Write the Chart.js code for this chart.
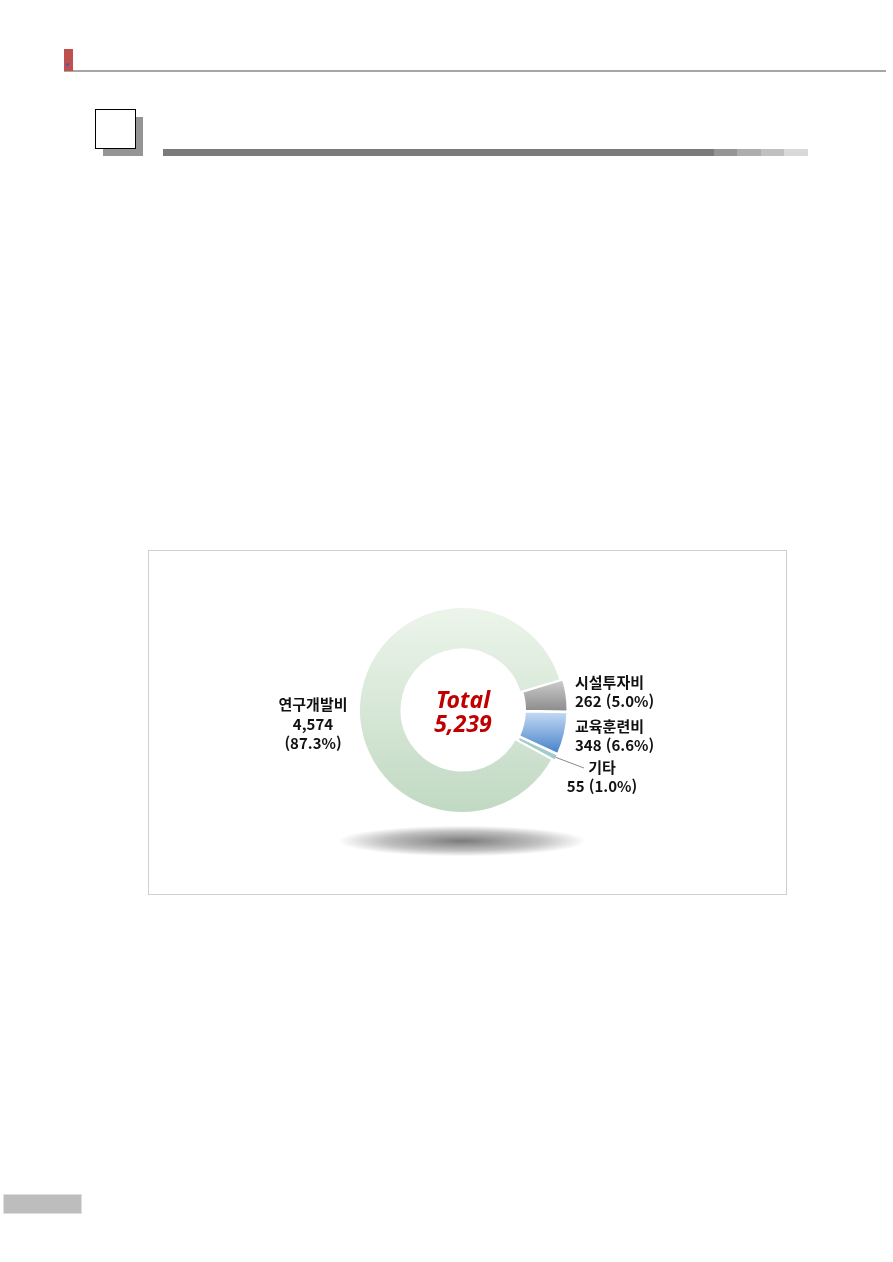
<!DOCTYPE html>
<html lang="ko">
<head>
<meta charset="utf-8">
<script src="https://cdn.jsdelivr.net/npm/chart.js@4/dist/chart.umd.min.js"></script>
<style>
  html, body { margin: 0; padding: 0; background: #fff; }
  body { width: 893px; height: 1262px; position: relative; overflow: hidden;
         font-family: "Noto Sans CJK KR", "Noto Sans", sans-serif; }
  .abs { position: absolute; }
  #topLine { left: 64px; top: 70px; width: 822px; height: 2px; background: #a6a6a6; }
  #redMark { left: 64px; top: 49px; width: 9px; height: 22px; background: #c0504d; }
  #redDot { left: 66px; top: 63px; width: 3px; height: 3px; background: #3a5bd6; border-radius: 2px; }
  #boxShadow { left: 103px; top: 117px; width: 40px; height: 39px; background: #959595; }
  #box { left: 95px; top: 109px; width: 39px; height: 38px; background: #fff; border: 1px solid #000; }
  #bar { left: 163px; top: 149px; height: 7px; display: flex; }
  #bar div { height: 7px; }
  #frame { left: 148px; top: 550px; width: 637px; height: 343px; border: 1px solid #cfcfcf; }
  #shadow { left: 340px; top: 826px; width: 244px; height: 30px;
            background: radial-gradient(ellipse at center, rgba(100,100,100,0.85) 0%, rgba(140,140,140,0.55) 45%, rgba(255,255,255,0) 72%); }
  #wrap { left: 149px; top: 551px; width: 637px; height: 343px; }
  #footBlock { left: 3px; top: 1194px; width: 79px; height: 20px; background: #bdbdbd; border: 1px solid #dedede; box-sizing: border-box; }
</style>
</head>
<body>
<div class="abs" id="topLine"></div>
<div class="abs" id="redMark"></div>
<div class="abs" id="redDot"></div>
<div class="abs" id="boxShadow"></div>
<div class="abs" id="box"></div>
<div class="abs" id="bar">
  <div style="width:551px;background:#7a7a7a"></div>
  <div style="width:23px;background:#959595"></div>
  <div style="width:24px;background:#adadad"></div>
  <div style="width:23px;background:#c0c0c0"></div>
  <div style="width:24px;background:#d9d9d9"></div>
</div>
<div class="abs" id="frame"></div>
<div class="abs" id="shadow"></div>
<div class="abs" id="wrap"><canvas id="donut" width="637" height="343"></canvas></div>
<div class="abs" id="footBlock"></div>

<script>
// 데이터
const categories = ['시설투자비', '교육훈련비', '기타', '연구개발비'];
const values = [262, 348, 55, 4574];
const shares = ['5.0%', '6.6%', '1.0%', '87.3%'];
const totalLabel = ['Total', '5,239'];

// 세로 그라데이션 (조각별)
function vGrad(chart, y0, y1, c0, c1) {
    const area = chart.chartArea;
    if (!area) return c1;
    const cy = (area.top + area.bottom) / 2;
    const g = chart.ctx.createLinearGradient(0, cy + y0, 0, cy + y1);
    g.addColorStop(0, c0);
    g.addColorStop(1, c1);
    return g;
}

function sliceColor(c) {
    switch (c.dataIndex) {
        case 0: return vGrad(c.chart, -35, 2, '#d8d8d8', '#8a8a8a');
        case 1: return vGrad(c.chart, 0, 42, '#c9ddf5', '#4a84cb');
        case 2: return '#a3ccc8';
        default: return vGrad(c.chart, -104, 104, '#edf5eb', '#c0d9c2');
    }
}

const labelPlugin = {
    id: 'donutLabels',
    afterDraw: function(chart) {
        const ctx = chart.ctx;
        const arcs = chart.getDatasetMeta(0).data;
        const cx = arcs[3].x, cy = arcs[3].y;
        const fmt = function(v) { return v.toLocaleString('en-US'); };

        ctx.save();
        ctx.fillStyle = '#111';
        ctx.textBaseline = 'middle';
        ctx.font = 'bold 15px "Noto Sans CJK KR", sans-serif';

        // 연구개발비 (왼쪽)
        ctx.textAlign = 'center';
        ctx.fillText(categories[3], cx - 149, cy - 6);
        ctx.fillText(fmt(values[3]), cx - 149, cy + 14);
        ctx.fillText('(' + shares[3] + ')', cx - 149, cy + 33);

        // 오른쪽 라벨
        ctx.textAlign = 'left';
        ctx.fillText(categories[0], cx + 113, cy - 28);
        ctx.fillText(fmt(values[0]) + ' (' + shares[0] + ')', cx + 113, cy - 9);
        ctx.fillText(categories[1], cx + 113, cy + 16);
        ctx.fillText(fmt(values[1]) + ' (' + shares[1] + ')', cx + 113, cy + 35);
        ctx.textAlign = 'center';
        ctx.fillText(categories[2], cx + 140, cy + 57);
        ctx.fillText(fmt(values[2]) + ' (' + shares[2] + ')', cx + 140, cy + 76);

        // 기타 지시선
        const a = arcs[2];
        const mid = (a.startAngle + a.endAngle) / 2;
        const r = a.outerRadius + 2;
        ctx.strokeStyle = '#8a8a8a';
        ctx.lineWidth = 1;
        ctx.beginPath();
        ctx.moveTo(cx + Math.cos(mid) * r, cy + Math.sin(mid) * r);
        ctx.lineTo(cx + 122, cy + 58);
        ctx.stroke();

        // 가운데 합계
        ctx.fillStyle = '#c00000';
        ctx.font = 'italic bold 23px "Noto Sans", sans-serif';
        ctx.fillText(totalLabel[0], cx + 1, cy - 9);
        ctx.fillText(totalLabel[1], cx + 1, cy + 15);
        ctx.restore();
    }
};

new Chart(document.getElementById('donut'), {
    type: 'doughnut',
    data: {
        labels: categories,
        datasets: [{
            data: values,
            backgroundColor: sliceColor,
            borderColor: '#ffffff',
            borderWidth: 2,
            offset: [6, 6, 6, 0],
            hoverOffset: 0
        }]
    },
    options: {
        responsive: false,
        animation: false,
        rotation: 73,
        radius: 103,
        cutout: 64,
        layout: { padding: { left: 200, right: 211, top: 46, bottom: 71 } },
        plugins: {
            legend: { display: false },
            tooltip: { enabled: false }
        }
    },
    plugins: [labelPlugin]
});
</script>
</body>
</html>
